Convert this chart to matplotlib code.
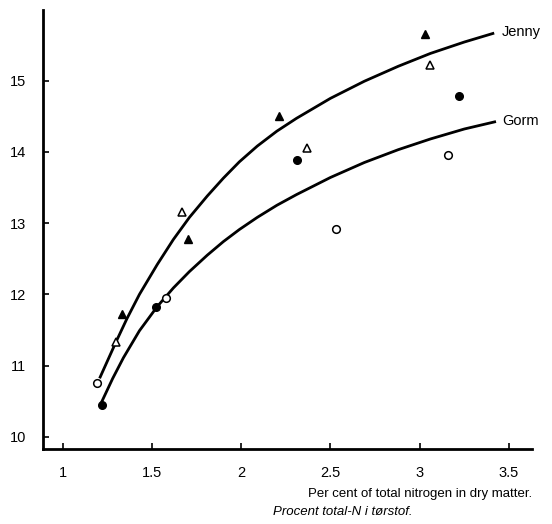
import matplotlib.pyplot as plt

plt.rcParams['font.family'] = ['Liberation Sans', 'DejaVu Sans']

# data points
jenny_a_x = [1.33, 1.70, 2.21, 3.03]      # filled triangles
jenny_a_y = [11.73, 12.78, 14.50, 15.65]
jenny_b_x = [1.30, 1.67, 2.37, 3.06]      # open triangles
jenny_b_y = [11.33, 13.15, 14.05, 15.22]
gorm_a_x = [1.22, 1.52, 2.31, 3.22]       # filled circles
gorm_a_y = [10.45, 11.82, 13.88, 14.78]
gorm_b_x = [1.19, 1.58, 2.53, 3.16]       # open circles
gorm_b_y = [10.76, 11.95, 12.92, 13.96]

# fitted curves, points
jenny_cx = [1.21, 1.30, 1.36, 1.43, 1.53, 1.62, 1.71, 1.81, 1.90, 1.99, 2.09, 2.20,
            2.31, 2.50, 2.69, 2.88, 3.06, 3.25, 3.41]
jenny_cy = [10.84, 11.34, 11.66, 12.00, 12.42, 12.77, 13.08, 13.38, 13.63, 13.86, 14.08, 14.29,
            14.47, 14.75, 14.99, 15.20, 15.38, 15.54, 15.66]
gorm_cx = [1.22, 1.28, 1.34, 1.43, 1.53, 1.62, 1.71, 1.81, 1.90, 1.99, 2.09, 2.20,
           2.31, 2.50, 2.69, 2.88, 3.06, 3.25, 3.42]
gorm_cy = [10.50, 10.82, 11.11, 11.49, 11.83, 12.09, 12.32, 12.55, 12.74, 12.91, 13.08, 13.25,
           13.40, 13.64, 13.85, 14.03, 14.18, 14.32, 14.42]

xticks = [1, 1.5, 2, 2.5, 3, 3.5]
xlabels = ['1', '1.5', '2', '2.5', '3', '3.5']
yticks = [10, 11, 12, 13, 14, 15]

fig = plt.figure(figsize=(5.52, 5.24), dpi=100)
ax = fig.add_axes([0.078, 0.143, 0.886, 0.838])

ax.plot(jenny_cx, jenny_cy, color='black', lw=2, solid_joinstyle='round')
ax.plot(gorm_cx, gorm_cy, color='black', lw=2, solid_joinstyle='round')

ax.plot(jenny_a_x, jenny_a_y, '^', color='black', ms=6, ls='none')
ax.plot(jenny_b_x, jenny_b_y, '^', mfc='white', mec='black', mew=1.1, ms=6, ls='none')
ax.plot(gorm_a_x, gorm_a_y, 'o', color='black', ms=5.5, ls='none')
ax.plot(gorm_b_x, gorm_b_y, 'o', mfc='white', mec='black', mew=1.1, ms=5.5, ls='none')

ax.text(3.46, 15.68, 'Jenny', fontsize=10.5, va='center', ha='left')
ax.text(3.46, 14.43, 'Gorm', fontsize=10.5, va='center', ha='left')

ax.set_xlim(0.89, 3.63)
ax.set_ylim(9.83, 15.99)
ax.set_xticks(xticks)
ax.set_xticklabels(xlabels)
ax.set_yticks(yticks)

for s in ['top', 'right']:
    ax.spines[s].set_visible(False)
ax.spines['left'].set_linewidth(2)
ax.spines['bottom'].set_linewidth(2)
ax.tick_params(direction='in', length=4, width=1.2, labelsize=10.5, pad=12)

fig.text(0.964, 0.057, 'Per cent of total nitrogen in dry matter.', ha='right', va='center', fontsize=9.5)
fig.text(0.495, 0.023, 'Procent total-N i tørstof.', ha='left', va='center', fontsize=9.5, style='italic')

plt.savefig('out.png', dpi=100)
